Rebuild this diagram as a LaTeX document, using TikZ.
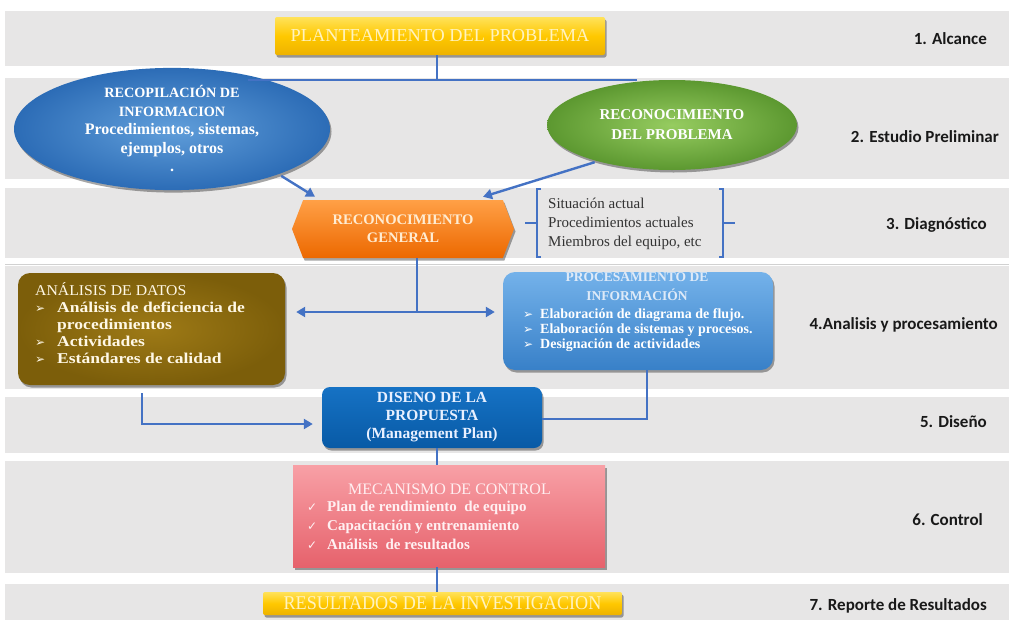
\documentclass[tikz,border=0pt]{standalone}
\usepackage{fontspec}
\setmainfont{Liberation Serif}
\newfontfamily\labelfont{Carlito}
\newfontfamily\symfont{DejaVu Sans}
\newfontfamily\wideserif[FakeStretch=1.17]{Liberation Serif}
\newfontfamily\headserif[FakeStretch=1.05]{Liberation Serif}
\newfontfamily\narrowserif[FakeStretch=0.93]{Liberation Serif}
\usetikzlibrary{shapes.geometric,shapes.symbols,arrows.meta,shadows,calc}

\definecolor{bandgray}{HTML}{E7E6E6}
\definecolor{linkblue}{HTML}{4472C4}
\definecolor{goldtop}{HTML}{FFE25A}
\definecolor{goldmid}{HTML}{FFC800}
\definecolor{goldbot}{HTML}{EDB200}
\definecolor{paleyellow}{HTML}{FFF3BF}

\newcommand\arrowbul[1]{\makebox[#1][l]{\symfont\fontsize{12}{12}\selectfont ➢}}
\newcommand\checkbul{\makebox[20pt][l]{\symfont\fontsize{12}{12}\selectfont ✓}}

\tikzset{
  bandfill/.style={fill=bandgray, draw=none},
  link/.style={draw=linkblue, line width=2.4pt},
  arr/.style={link, -{Triangle[length=9pt,width=10pt]}},
  rowlabel/.style={font=\labelfont\bfseries\fontsize{17}{20}\selectfont, text=black!90, anchor=east, inner sep=0},
  softshadow/.style={drop shadow={shadow xshift=1.5pt, shadow yshift=-2.5pt, opacity=.35, fill=black}},
  goldbox/.style={rectangle, rounded corners=2pt, inner sep=0, top color=goldtop, bottom color=goldbot, middle color=goldmid, softshadow, text=paleyellow},
}

\begin{document}
\begin{tikzpicture}[x=1pt, y=-1pt]
\useasboundingbox (0,0) rectangle (1009,624);
\fill[white] (0,0) rectangle (1009,624);

% background bands, one per stage
\fill[bandfill] (5,11) rectangle (1009,66);
\fill[bandfill] (5,78) rectangle (1009,179);
\fill[bandfill] (5,188) rectangle (1009,258);
\draw[black!18, line width=1pt] (5,264) -- (1009,264);
\fill[bandfill] (5,266) rectangle (1009,389);
\fill[bandfill] (5,397) rectangle (1009,453);
\fill[bandfill] (5,461) rectangle (1009,573);
\fill[bandfill] (5,584) rectangle (1009,620);

% stage labels
\node[rowlabel] (lab1) at (987,39) {1. Alcance};
\node[rowlabel] (lab2) at (999,137) {2. Estudio Preliminar};
\node[rowlabel] (lab3) at (987,225) {3. Diagnóstico};
\node[rowlabel] (lab4) at (998,325) {4.Analisis y procesamiento};
\node[rowlabel] (lab5) at (987,422) {5. Diseño};
\node[rowlabel] (lab6) at (983,520) {6. Control};
\node[rowlabel] (lab7) at (987,606) {7. Reporte de Resultados};

% 1. scope
\node[goldbox, minimum width=330pt, minimum height=38pt, font=\fontsize{18.3}{20}\selectfont] (title) at (440,36) {PLANTEAMIENTO DEL PROBLEMA};

% 2. preliminary study
\node[ellipse, minimum width=316pt, minimum height=100pt, inner sep=0, shading=radial, inner color={rgb,255:red,96;green,158;blue,218}, outer color={rgb,255:red,44;green,108;blue,182}, softshadow, text=white, align=center, font=\bfseries\fontsize{16}{18.5}\selectfont] (recop) at (172,129)
  {\fontsize{14.2}{18.5}\selectfont RECOPILACIÓN DE\\\fontsize{14.2}{18.5}\selectfont INFORMACION\\Procedimientos, sistemas,\\ejemplos, otros\\.};
\node[ellipse, minimum width=250pt, minimum height=90pt, inner sep=0, shading=radial, inner color={rgb,255:red,150;green,204;blue,96}, outer color={rgb,255:red,92;green,152;blue,48}, softshadow, text=white, align=center, font=\bfseries\fontsize{15}{20}\selectfont] (recon) at (672,125)
  {RECONOCIMIENTO\\DEL PROBLEMA};

% 3. diagnosis
\node[signal, signal to=east and west, signal pointer angle=138, minimum width=222pt, minimum height=58pt, inner sep=0, top color={rgb,255:red,255;green,160;blue,70}, middle color={rgb,255:red,250;green,124;blue,20}, bottom color={rgb,255:red,236;green,104;blue,0}, softshadow, text={rgb,255:red,255;green,236;blue,210}, align=center, font=\bfseries\fontsize{14.6}{18}\selectfont] (gen) at (403,229)
  {RECONOCIMIENTO\\GENERAL};
\node[anchor=west, align=left, inner sep=0, text=black!80, font=\fontsize{15}{19}\selectfont] (diag) at (548,224)
  {Situación actual\\Procedimientos actuales\\Miembros del equipo, etc};
\draw[linkblue, line width=1.3pt] (541,189) -- (537,189) -- (537,257) -- (541,257) (525,223) -- (537,223);
\draw[linkblue, line width=1.3pt] (719,189) -- (723,189) -- (723,257) -- (719,257) (723,223) -- (735,223);

% 4. analysis and processing
\node[rectangle, rounded corners=12pt, minimum width=267pt, minimum height=112pt, inner sep=0, shading=radial, inner color={rgb,255:red,158;green,122;blue,22}, outer color={rgb,255:red,124;green,94;blue,10}, softshadow] (datos) at (151.5,329) {};
\node[anchor=north west, inner sep=0, align=left, text={rgb,255:red,255;green,248;blue,230}, font=\fontsize{15}{17}\selectfont] (datosTxt) at (35,282)
  {\headserif ANÁLISIS DE DATOS\\
   \arrowbul{22pt}\wideserif\bfseries Análisis de deficiencia de\\
   \hspace*{22pt}\wideserif\bfseries procedimientos\\
   \arrowbul{22pt}\wideserif\bfseries Actividades\\
   \arrowbul{22pt}\wideserif\bfseries Estándares de calidad};

\node[rectangle, rounded corners=12pt, minimum width=270pt, minimum height=98pt, inner sep=0, top color={rgb,255:red,116;green,178;blue,234}, bottom color={rgb,255:red,56;green,128;blue,200}, softshadow] (proc) at (638,321) {};
\node[inner sep=0, align=center, text={rgb,255:red,222;green,234;blue,248}, font=\bfseries\fontsize{13.5}{19}\selectfont] (procTitle) at (637,287)
  {PROCESAMIENTO DE\\INFORMACIÓN};
\node[anchor=north west, inner sep=0, align=left, text=white, font=\bfseries\fontsize{14}{15}\selectfont] (procItems) at (523,308)
  {\arrowbul{17pt}Elaboración de diagrama de flujo.\\
   \arrowbul{17pt}Elaboración de sistemas y procesos.\\
   \arrowbul{17pt}Designación de actividades};

% 5. design
\node[rectangle, rounded corners=8pt, minimum width=220pt, minimum height=61pt, inner sep=0, top color={rgb,255:red,22;green,114;blue,196}, bottom color={rgb,255:red,8;green,90;blue,166}, softshadow, text={rgb,255:red,232;green,240;blue,255}, align=center, font=\bfseries\fontsize{15.5}{18}\selectfont] (dis) at (432,417.5)
  {DISENO DE LA\\PROPUESTA\\(Management Plan)};

% 6. control
\node[rectangle, minimum width=312pt, minimum height=102pt, inner sep=0, top color={rgb,255:red,248;green,160;blue,166}, middle color={rgb,255:red,240;green,118;blue,126}, bottom color={rgb,255:red,230;green,98;blue,108}, softshadow] (ctrl) at (449,516) {};
\node[inner sep=0, text={rgb,255:red,255;green,238;blue,240}, font=\fontsize{16}{19}\selectfont] (ctrlTitle) at (449.5,489) {MECANISMO DE CONTROL};
\node[anchor=north west, inner sep=0, align=left, text={rgb,255:red,255;green,240;blue,242}, font=\bfseries\fontsize{15}{19}\selectfont] (ctrlItems) at (307,501)
  {\checkbul Plan de rendimiento\ \ de equipo\\
   \checkbul Capacitación y entrenamiento\\
   \checkbul Análisis\ \ de resultados};

% 7. report
\node[goldbox, minimum width=359pt, minimum height=23pt, font=\narrowserif\fontsize{19.5}{20}\selectfont] (res) at (442.5,603.5) {RESULTADOS DE LA INVESTIGACION};

% connectors
\coordinate (j) at (437,80);
\coordinate (jl) at (248,80);
\coordinate (jr) at (637,80);
\draw[link] (title.south -| j) -- (j);
\draw[link] (jl) -- (jr);

\draw[arr, shorten <=3pt] (recop.-23) -- ($(gen.north)+(-88,-3)$);
\draw[arr, shorten <=3pt] (recon.206) -- ($(gen.north)+(80,-3)$);

\coordinate (hub) at (417,312);
\draw[link] (gen.south -| hub) -- (hub);
\draw[link, {Triangle[length=9pt,width=10pt]}-{Triangle[length=9pt,width=10pt]}] ([xshift=11pt]datos.east |- hub) -- ([xshift=-8pt]proc.west |- hub);

\coordinate (dl) at (142,424);
\draw[arr] (datos.south -| dl) ++(0,8) |- ([xshift=-9pt]dis.west |- dl);
\coordinate (dr) at (647,419);
\draw[link] (proc.south -| dr) |- (dis.east |- dr);

\draw[link] ([xshift=5pt]dis.south) -- ([xshift=5pt]dis.south |- ctrl.north);
\draw[link] ([xshift=-12pt]ctrl.south) -- ([xshift=-12pt]ctrl.south |- res.north);
\end{tikzpicture}
\end{document}
